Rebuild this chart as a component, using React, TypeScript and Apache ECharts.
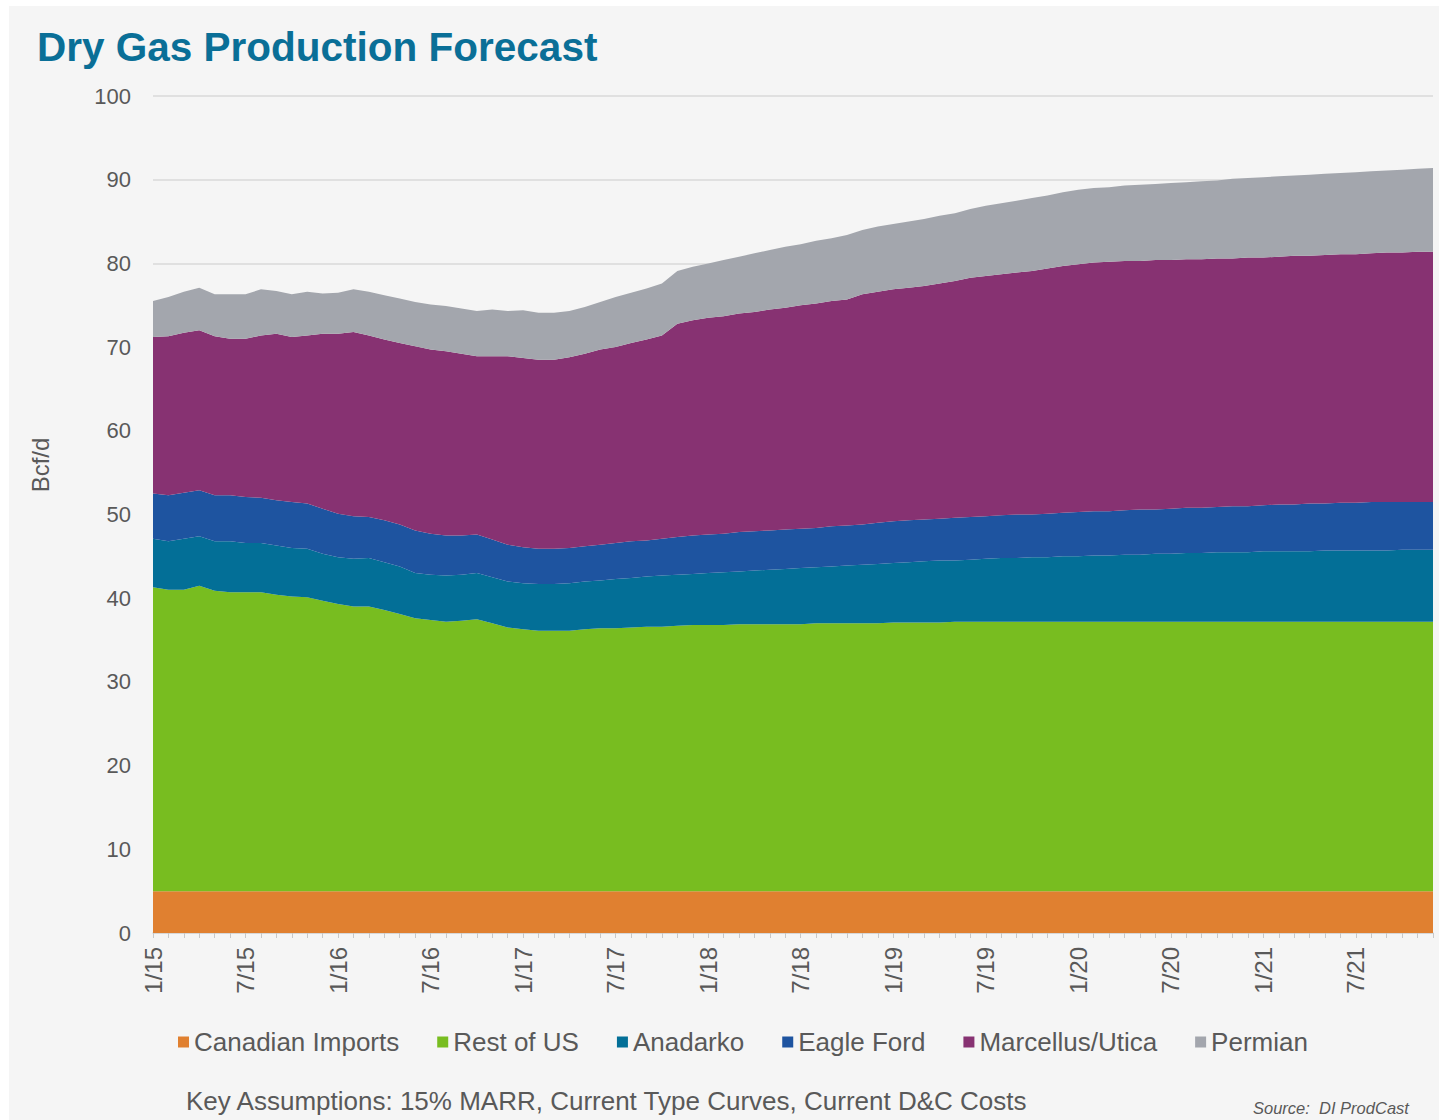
import React, { useEffect, useRef } from "react";
import * as echarts from "echarts";

// Months Jan 2015 .. Dec 2021 (labels shown every 6 months)
const years = [15, 16, 17, 18, 19, 20, 21];
const months: string[] = [];
years.forEach((y) => {
  for (let m = 1; m <= 12; m++) months.push(`${m}/${y}`);
});

const canadianImports = new Array(84).fill(5);

const restOfUS = [
  36.3, 36.0, 36.0, 36.5, 35.9, 35.7, 35.7, 35.7, 35.4, 35.2, 35.1, 34.7,
  34.3, 34.0, 34.0, 33.6, 33.1, 32.6, 32.4, 32.2, 32.3, 32.5, 32.0, 31.5,
  31.3, 31.1, 31.1, 31.1, 31.3, 31.4, 31.4, 31.5, 31.6, 31.6, 31.7, 31.8,
  31.8, 31.8, 31.9, 31.9, 31.9, 31.9, 31.9, 32.0, 32.0, 32.0, 32.0, 32.0,
  32.1, 32.1, 32.1, 32.1, 32.2, 32.2, 32.2, 32.2, 32.2, 32.2, 32.2, 32.2,
  32.2, 32.2, 32.2, 32.2, 32.2, 32.2, 32.2, 32.2, 32.2, 32.2, 32.2, 32.2,
  32.2, 32.2, 32.2, 32.2, 32.2, 32.2, 32.2, 32.2, 32.2, 32.2, 32.2, 32.2,
];

const anadarko = [
  5.8, 5.8, 6.1, 5.9, 5.9, 6.1, 5.9, 5.9, 5.9, 5.8, 5.8, 5.6,
  5.6, 5.7, 5.8, 5.7, 5.7, 5.4, 5.4, 5.5, 5.5, 5.5, 5.5, 5.5,
  5.5, 5.6, 5.6, 5.7, 5.7, 5.7, 5.9, 5.9, 6.0, 6.1, 6.1, 6.1,
  6.2, 6.3, 6.3, 6.4, 6.5, 6.6, 6.7, 6.7, 6.8, 6.9, 7.0, 7.1,
  7.1, 7.2, 7.3, 7.4, 7.3, 7.4, 7.5, 7.6, 7.6, 7.7, 7.7, 7.8,
  7.8, 7.9, 7.9, 8.0, 8.0, 8.1, 8.1, 8.2, 8.2, 8.3, 8.3, 8.3,
  8.4, 8.4, 8.4, 8.4, 8.5, 8.5, 8.5, 8.5, 8.5, 8.6, 8.6, 8.6,
];

const eagleFord = [
  5.4, 5.5, 5.5, 5.5, 5.5, 5.5, 5.5, 5.4, 5.4, 5.5, 5.4, 5.4,
  5.2, 5.1, 4.9, 5.0, 5.0, 5.1, 4.9, 4.8, 4.7, 4.6, 4.5, 4.4,
  4.3, 4.2, 4.2, 4.2, 4.2, 4.3, 4.3, 4.4, 4.3, 4.4, 4.5, 4.6,
  4.6, 4.6, 4.7, 4.7, 4.7, 4.7, 4.7, 4.7, 4.8, 4.8, 4.8, 4.9,
  5.0, 5.0, 5.0, 5.0, 5.1, 5.1, 5.1, 5.1, 5.2, 5.1, 5.2, 5.2,
  5.3, 5.3, 5.3, 5.3, 5.4, 5.3, 5.4, 5.4, 5.4, 5.4, 5.5, 5.5,
  5.5, 5.6, 5.6, 5.7, 5.6, 5.7, 5.7, 5.8, 5.8, 5.7, 5.7, 5.7,
];

const marcellusUtica = [
  18.7, 19.0, 19.1, 19.1, 19.0, 18.7, 18.9, 19.4, 19.9, 19.7, 20.1, 20.9,
  21.5, 22.0, 21.7, 21.6, 21.7, 22.0, 22.0, 22.0, 21.7, 21.3, 21.9, 22.5,
  22.6, 22.6, 22.6, 22.8, 23.0, 23.3, 23.4, 23.7, 24.0, 24.3, 25.5, 25.7,
  25.9, 26.0, 26.1, 26.2, 26.4, 26.5, 26.7, 26.8, 26.9, 27.0, 27.5, 27.6,
  27.7, 27.8, 27.9, 28.1, 28.3, 28.6, 28.7, 28.8, 28.9, 29.1, 29.3, 29.5,
  29.6, 29.7, 29.8, 29.8, 29.7, 29.8, 29.7, 29.7, 29.7, 29.7, 29.6, 29.7,
  29.6, 29.6, 29.7, 29.6, 29.7, 29.7, 29.7, 29.7, 29.8, 29.8, 29.9, 29.9,
];

const permian = [
  4.3, 4.7, 4.9, 5.1, 5.0, 5.3, 5.3, 5.5, 5.1, 5.1, 5.2, 4.8,
  4.9, 5.1, 5.2, 5.3, 5.3, 5.3, 5.4, 5.4, 5.4, 5.4, 5.6, 5.4,
  5.7, 5.6, 5.6, 5.5, 5.6, 5.7, 6.0, 6.0, 6.1, 6.2, 6.3, 6.4,
  6.5, 6.7, 6.8, 7.0, 7.1, 7.3, 7.3, 7.5, 7.5, 7.7, 7.7, 7.8,
  7.8, 7.9, 8.0, 8.1, 8.1, 8.2, 8.4, 8.5, 8.6, 8.7, 8.7, 8.8,
  8.9, 8.9, 8.9, 9.0, 9.1, 9.1, 9.2, 9.2, 9.3, 9.3, 9.5, 9.5,
  9.6, 9.6, 9.6, 9.7, 9.7, 9.7, 9.8, 9.8, 9.8, 9.9, 9.9, 10.0,
];

const seriesNames = [
  "Canadian Imports",
  "Rest of US",
  "Anadarko",
  "Eagle Ford",
  "Marcellus/Utica",
  "Permian",
];
const seriesData = [canadianImports, restOfUS, anadarko, eagleFord, marcellusUtica, permian];
const seriesColors = ["#e08030", "#78bd20", "#036f97", "#1e54a0", "#873272", "#a3a6ad"];

const yTicks = [0, 10, 20, 30, 40, 50, 60, 70, 80, 90, 100];

const FONT = "'Liberation Sans', Arial, Helvetica, sans-serif";
const TEXT = "#595959";

export default function App() {
  const ref = useRef<HTMLDivElement>(null);

  useEffect(() => {
    document.body.style.margin = "0";
    if (!ref.current) return;
    const chart = echarts.init(ref.current, undefined, { renderer: "svg" });
    chart.setOption({
      animation: false,
      backgroundColor: "#ffffff",
      textStyle: { fontFamily: FONT },
      graphic: [
        {
          type: "rect",
          z: -10,
          silent: true,
          shape: { x: 9, y: 6, width: 1430, height: 1114 },
          style: { fill: "#f5f5f5" },
        },
        {
          type: "text",
          x: 37,
          y: 47,
          style: {
            text: "Dry Gas Production Forecast",
            fontFamily: FONT,
            fontWeight: "bold",
            fontSize: 40.5,
            fill: "#0a6f97",
            verticalAlign: "middle",
          },
        },
        {
          type: "text",
          x: 40,
          y: 465,
          rotation: Math.PI / 2,
          style: {
            text: "Bcf/d",
            fontFamily: FONT,
            fontSize: 24,
            fill: TEXT,
            align: "center",
            verticalAlign: "middle",
          },
        },
        {
          type: "text",
          x: 186,
          y: 1101,
          style: {
            text: "Key Assumptions: 15% MARR, Current Type Curves, Current D&C Costs",
            fontFamily: FONT,
            fontSize: 26,
            fill: TEXT,
            verticalAlign: "middle",
          },
        },
        {
          type: "text",
          x: 1253,
          y: 1108,
          style: {
            text: "Source:  DI ProdCast",
            fontFamily: FONT,
            fontStyle: "italic",
            fontSize: 16.5,
            fill: TEXT,
            verticalAlign: "middle",
          },
        },
      ],
      legend: {
        data: seriesNames,
        left: 173,
        top: 1024,
        icon: "rect",
        itemWidth: 11,
        itemHeight: 11,
        itemGap: 38,
        textStyle: { fontFamily: FONT, fontSize: 26, color: TEXT },
      },
      grid: { left: 153, right: 6, top: 96, bottom: 187, containLabel: false },
      xAxis: {
        type: "category",
        boundaryGap: false,
        data: months,
        axisLine: { show: true, lineStyle: { color: "#d4d4d4", width: 1.5 } },
        axisTick: { show: true, interval: 0, length: 5, lineStyle: { color: "#c8c8c8" } },
        axisLabel: {
          interval: 5,
          rotate: 90,
          margin: 14,
          fontFamily: FONT,
          fontSize: 24,
          color: TEXT,
        },
        splitLine: { show: false },
      },
      yAxis: {
        type: "value",
        min: yTicks[0],
        max: yTicks[yTicks.length - 1],
        interval: 10,
        axisLine: { show: false },
        axisTick: { show: false },
        axisLabel: { margin: 22, fontFamily: FONT, fontSize: 22, color: TEXT },
        splitLine: { show: true, lineStyle: { color: "#d9d9d9", width: 1.5 } },
      },
      series: seriesNames.map((name, i) => ({
        name,
        type: "line",
        stack: "total",
        data: seriesData[i],
        symbol: "none",
        showSymbol: false,
        lineStyle: { width: 0 },
        areaStyle: { color: seriesColors[i], opacity: 1 },
        itemStyle: { color: seriesColors[i] },
        emphasis: { disabled: true },
      })),
    });
    return () => chart.dispose();
  }, []);

  return <div ref={ref} style={{ width: 1439, height: 1120 }} />;
}
